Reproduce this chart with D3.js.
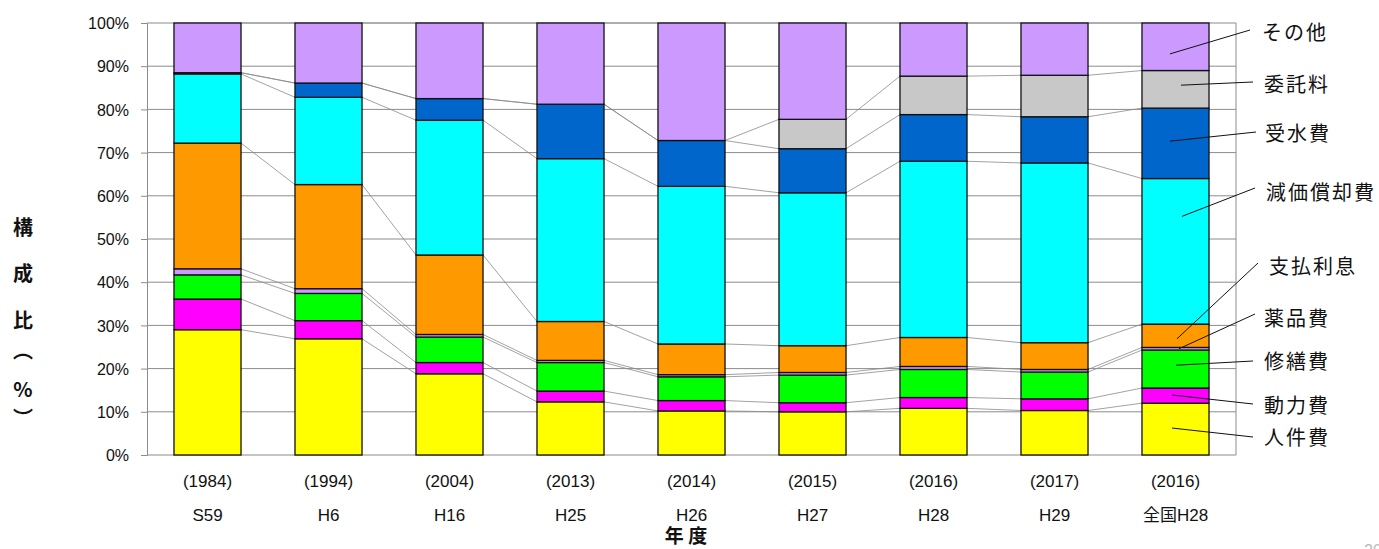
<!DOCTYPE html>
<html>
<head>
<meta charset="utf-8">
<script src="https://cdn.jsdelivr.net/npm/d3@7"></script>
<style>
  body { margin: 0; background: #fff; }
  svg { display: block; }
  .tick text { font-family: "Liberation Sans", Arial, sans-serif; }
</style>
</head>
<body>
<svg id="chart" width="1379" height="549"></svg>
<script>
// data (percent of total cost)
var years = ['(1984)', '(1994)', '(2004)', '(2013)', '(2014)', '(2015)', '(2016)', '(2017)', '(2016)'];
var periods = ['S59', 'H6', 'H16', 'H25', 'H26', 'H27', 'H28', 'H29', '全国H28'];
var seriesNames = ['人件費', '動力費', '修繕費', '薬品費', '支払利息', '減価償却費', '受水費', '委託料', 'その他'];
var personnel = [29.0, 26.9, 18.8, 12.3, 10.2, 10.0, 10.8, 10.3, 12.0];
var power = [7.1, 4.2, 2.6, 2.5, 2.4, 2.1, 2.5, 2.7, 3.5];
var repair = [5.6, 6.3, 5.9, 6.6, 5.5, 6.4, 6.5, 6.2, 8.8];
var chemicals = [1.4, 1.1, 0.6, 0.5, 0.5, 0.6, 0.7, 0.6, 0.6];
var interest = [29.1, 24.1, 18.4, 9.0, 7.1, 6.2, 6.7, 6.2, 5.4];
var depreciation = [16.0, 20.2, 31.2, 37.7, 36.5, 35.4, 40.8, 41.6, 33.7];
var purchasedWater = [0.3, 3.3, 5.0, 12.6, 10.6, 10.2, 10.8, 10.7, 16.3];
var outsourcing = [0, 0, 0, 0, 0, 6.8, 8.9, 9.6, 8.7];
var other = [11.5, 13.9, 17.5, 18.8, 27.2, 22.3, 12.3, 12.1, 11.0];
var yTicks = [0, 10, 20, 30, 40, 50, 60, 70, 80, 90, 100];

var seriesValues = [personnel, power, repair, chemicals, interest, depreciation, purchasedWater, outsourcing, other];
var colours = ['#ffff00', '#ff00ff', '#00ff00', '#cc99ff', '#ff9900', '#00ffff', '#0066cc', '#c8c8c8', '#cc99ff'];

// where each legend leader touches the last bar (fraction up its segment) and where its label sits
var legendAnchor = [0.52, 0.54, 0.6, 0.5, 0.37, 0.74, 0.53, 0.61, 0.35];
var legendLabelY = [438, 406, 362, 319, 267, 193, 134, 85, 33];
var legendLabelX = [1264, 1264, 1264, 1264, 1269, 1266, 1265, 1264, 1262];
var legendLineEnd = [[1253, 437], [1253, 404], [1253, 361], [1255, 314], [1258, 263], [1255, 188], [1256, 132], [1253, 82], [1250, 30]];
var legendLineStartDx = [30, 30, 34, 37, 35, 40, 28, 39, 28];

var svg = d3.select('#chart');
var plotLeft = 147, plotRight = 1236, plotTop = 23, plotBottom = 455;

var rows = periods.map(function (p, j) {
    var row = { period: p, index: j };
    seriesNames.forEach(function (s, i) { row[s] = seriesValues[i][j]; });
    return row;
});
var stacked = d3.stack().keys(seriesNames)(rows);

var x = d3.scaleBand().domain(d3.range(periods.length)).range([plotLeft, plotRight]).paddingInner(0.446).paddingOuter(0.223);
var y = d3.scaleLinear().domain([0, 100]).range([plotBottom, plotTop]);
var bw = x.bandwidth();

// grid
svg.append('g')
    .selectAll('line')
    .data(yTicks)
    .enter()
    .append('line')
    .attr('x1', plotLeft).attr('x2', plotRight)
    .attr('y1', function (d) { return y(d); }).attr('y2', function (d) { return y(d); })
    .attr('stroke', '#8c8c8c')
    .attr('stroke-width', 1);
svg.append('line')
    .attr('x1', plotRight).attr('x2', plotRight).attr('y1', plotTop).attr('y2', plotBottom)
    .attr('stroke', '#8c8c8c');

// series lines between neighbouring bars
var links = svg.append('g');
stacked.forEach(function (layer) {
    for (var j = 0; j < layer.length - 1; j++) {
        links.append('line')
            .attr('x1', x(j) + bw).attr('y1', y(layer[j][1]))
            .attr('x2', x(j + 1)).attr('y2', y(layer[j + 1][1]))
            .attr('stroke', '#8a8a8a')
            .attr('stroke-width', 0.8);
    }
});

// bars
svg.append('g')
    .selectAll('g')
    .data(stacked)
    .enter()
    .append('g')
    .attr('fill', function (d, i) { return colours[i]; })
    .selectAll('rect')
    .data(function (d) { return d.filter(function (v) { return v[1] - v[0] > 0; }); })
    .enter()
    .append('rect')
    .attr('x', function (d) { return x(d.data.index); })
    .attr('y', function (d) { return y(d[1]); })
    .attr('width', bw)
    .attr('height', function (d) { return y(d[0]) - y(d[1]); })
    .attr('stroke', '#111')
    .attr('stroke-width', 1.3);

// y axis
var yAxis = svg.append('g')
    .attr('transform', 'translate(' + plotLeft + ',0)')
    .call(d3.axisLeft(y).tickValues(yTicks).tickSize(6).tickPadding(12).tickFormat(function (d) { return d + '%'; }));
yAxis.select('.domain').attr('stroke', '#8c8c8c');
yAxis.selectAll('.tick line').attr('stroke', '#8c8c8c');
yAxis.selectAll('.tick text').attr('font-size', 16).attr('fill', '#111').attr('dy', '0.36em');

// x labels
var xLabels = svg.append('g');
xLabels.selectAll('text.year')
    .data(years)
    .enter()
    .append('text')
    .attr('class', 'year')
    .attr('x', function (d, i) { return x(i) + bw / 2; })
    .attr('y', 487)
    .attr('text-anchor', 'middle')
    .attr('font-family', '"Liberation Sans", Arial, sans-serif')
    .attr('font-size', 17)
    .attr('fill', '#111')
    .text(function (d) { return d; });
xLabels.selectAll('text.period')
    .data(periods)
    .enter()
    .append('text')
    .attr('class', 'period')
    .attr('x', function (d, i) { return x(i) + bw / 2; })
    .attr('y', 521)
    .attr('text-anchor', 'middle')
    .attr('font-family', '"Liberation Sans", "Noto Sans CJK JP", sans-serif')
    .attr('font-size', 17)
    .attr('fill', '#111')
    .text(function (d) { return d; });

svg.append('text')
    .attr('x', 686).attr('y', 543)
    .attr('text-anchor', 'middle')
    .attr('font-family', '"Noto Sans CJK JP", sans-serif')
    .attr('font-weight', 'bold')
    .attr('font-size', 19)
    .attr('fill', '#111')
    .text('年 度');

// y title, stacked characters
var yTitleChars = ['構', '成', '比', '︵', '%', '︶'];
var yTitleY = [235, 281, 328, 358, 397, 426];
svg.append('g')
    .selectAll('text')
    .data(yTitleChars)
    .enter()
    .append('text')
    .attr('x', 23)
    .attr('y', function (d, i) { return yTitleY[i]; })
    .attr('text-anchor', 'middle')
    .attr('font-family', '"Noto Sans CJK JP", sans-serif')
    .attr('font-weight', 'bold')
    .attr('font-size', 20)
    .attr('fill', '#111')
    .text(function (d) { return d; });

// legend with leader lines into the last bar
var last = periods.length - 1;
var legend = svg.append('g');
stacked.forEach(function (layer, i) {
    var seg = layer[last];
    var ay = y(seg[0] + (seg[1] - seg[0]) * legendAnchor[i]);
    legend.append('line')
        .attr('x1', x(last) + legendLineStartDx[i]).attr('y1', ay)
        .attr('x2', legendLineEnd[i][0]).attr('y2', legendLineEnd[i][1])
        .attr('stroke', '#111')
        .attr('stroke-width', 1);
    legend.append('text')
        .attr('x', legendLabelX[i])
        .attr('y', legendLabelY[i])
        .attr('dy', '0.36em')
        .attr('font-family', '"Noto Sans CJK JP", sans-serif')
        .attr('font-size', 20)
        .attr('letter-spacing', 2)
        .attr('fill', '#111')
        .text(seriesNames[i]);
});

// page number peeking in at the corner
svg.append('text')
    .attr('x', 1364).attr('y', 556)
    .attr('font-family', 'Liberation Sans, sans-serif')
    .attr('font-size', 16)
    .attr('fill', '#bbb')
    .text('20');
</script>
</body>
</html>
